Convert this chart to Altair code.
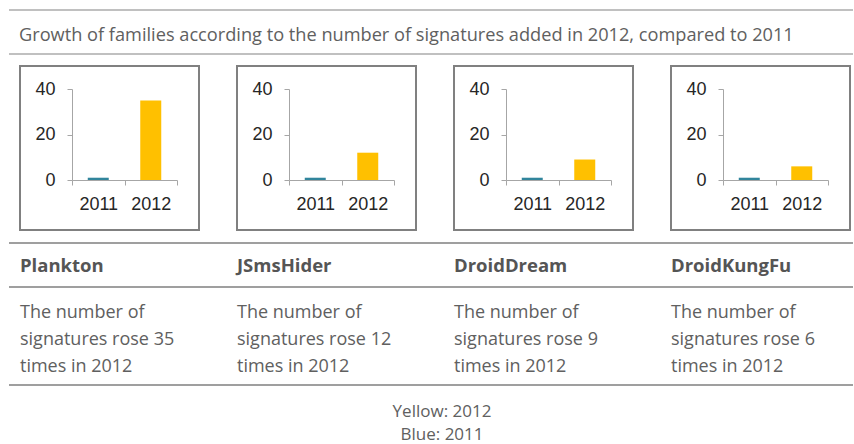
import altair as alt
import pandas as pd

# ---- data ----
families = ["Plankton", "JSmsHider", "DroidDream", "DroidKungFu"]
years = ["2011", "2012"]
values_2011 = [1, 1, 1, 1]
values_2012 = [35, 12, 9, 6]
descriptions = [
    "The number of\nsignatures rose 35\ntimes in 2012",
    "The number of\nsignatures rose 12\ntimes in 2012",
    "The number of\nsignatures rose 9\ntimes in 2012",
    "The number of\nsignatures rose 6\ntimes in 2012",
]
title_text = "Growth of families according to the number of signatures added in 2012, compared to 2011"
legend_lines = "Yellow: 2012\nBlue: 2011"
y_ticks = [0, 20, 40]

BLUE = "#31859C"
YELLOW = "#FFC000"
TXT = "#606060"
FONT = "Open Sans"
AXFONT = "Liberation Sans"


def one(**kw):
    return pd.DataFrame([kw])


def panel(i):
    df = pd.DataFrame({"year": years, "value": [values_2011[i], values_2012[i]]})
    bars = alt.Chart(df).mark_bar(size=21).encode(
        x=alt.X("year:N", scale=alt.Scale(domain=years, paddingInner=0, paddingOuter=0),
                axis=alt.Axis(title=None, labelAngle=0, tickBand="extent", tickSize=5,
                              labelPadding=10, domainColor="#A6A6A6", tickColor="#A6A6A6",
                              labelFont=AXFONT, labelFontSize=18, labelColor="#262626")),
        y=alt.Y("value:Q", scale=alt.Scale(domain=[0, 40], nice=False),
                axis=alt.Axis(title=None, values=y_ticks, grid=False, tickSize=5,
                              labelPadding=12, domainColor="#A6A6A6", tickColor="#A6A6A6",
                              labelFont=AXFONT, labelFontSize=18, labelColor="#262626")),
        color=alt.Color("year:N", scale=alt.Scale(domain=years, range=[BLUE, YELLOW]), legend=None),
    )
    box = alt.Chart(one(a=1)).mark_rect(fill="transparent", stroke="#808080", strokeWidth=2).encode(
        x=alt.value(-52), x2=alt.value(127), y=alt.value(-23), y2=alt.value(141)
    )
    name = alt.Chart(one(t=families[i])).mark_text(
        align="left", baseline="alphabetic", font=FONT, fontSize=18.5, fontWeight="bold", color="#555555"
    ).encode(text="t:N", x=alt.value(-52), y=alt.value(183))
    desc = alt.Chart(one(t=descriptions[i])).mark_text(
        align="left", baseline="alphabetic", font=FONT, fontSize=18, color=TXT,
        lineBreak="\n", lineHeight=27
    ).encode(text="t:N", x=alt.value(-52), y=alt.value(229))
    layers = [box, bars, name, desc]
    if i == 0:
        for yy, col in [(-79, "#ABABAB"), (-35, "#ABABAB"), (154, "#7F7F7F"), (198, "#7F7F7F"), (296, "#7F7F7F")]:
            layers.append(
                alt.Chart(one(a=1)).mark_rule(color=col, strokeWidth=1.5).encode(
                    x=alt.value(-63), x2=alt.value(781), y=alt.value(yy)
                )
            )
        layers.append(
            alt.Chart(one(t=title_text)).mark_text(
                align="left", baseline="alphabetic", font=FONT, fontSize=18.2, color=TXT
            ).encode(text="t:N", x=alt.value(-53), y=alt.value(-48.5))
        )
    if i == 1:
        layers.append(
            alt.Chart(one(t=legend_lines)).mark_text(
                align="center", baseline="alphabetic", font=FONT, fontSize=17, color=TXT,
                lineBreak="\n", lineHeight=23
            ).encode(text="t:N", x=alt.value(153), y=alt.value(327.5))
        )
    return alt.layer(*layers).properties(width=105, height=91)


chart = alt.hconcat(*[panel(i) for i in range(4)], spacing=112, bounds="flush").properties(
    padding={"left": 8, "top": 9, "right": 0, "bottom": 0}
).configure_view(strokeWidth=0)

chart.save("out.html", embed_options={"renderer": "svg", "actions": False})
